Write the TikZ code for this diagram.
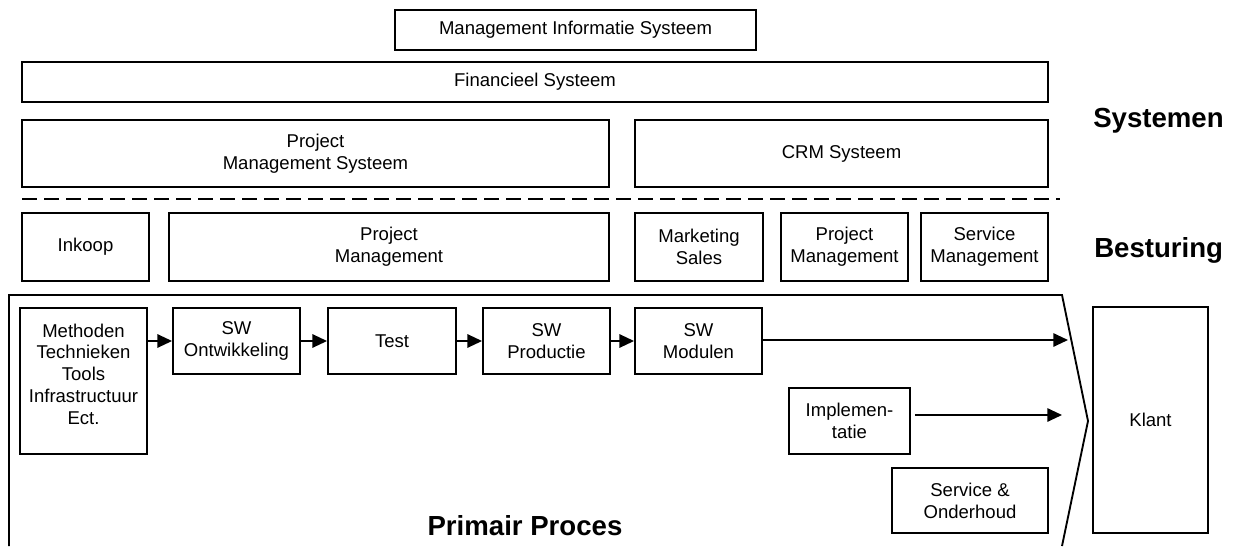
\documentclass[tikz,border=0pt]{standalone}
\usepackage{fontspec}
\setmainfont{Liberation Sans}
\usetikzlibrary{arrows.meta}
\tikzset{
  blok/.style={draw, line width=1.4pt, align=center, inner sep=0pt,
    font=\fontsize{13.9}{16.4}\selectfont},
  maat/.style 2 args={minimum width=#1*0.75pt, minimum height=#2*0.75pt},
  pijl/.style={line width=1.4pt, -{Triangle[length=11pt, width=10pt]}},
  laag/.style={font=\bfseries\fontsize{20.7}{24}\selectfont, inner sep=0pt}
}

\begin{document}
\begin{tikzpicture}[x=0.75pt, y=-0.75pt]
  \useasboundingbox (0,0) rectangle (1234,546);
  % Systemen
  \node[blok, maat={361}{40}] (mis) at (575.5,30) {Management Informatie Systeem};
  \node[blok, maat={1026}{40}] (fin) at (535,82) {Financieel Systeem};
  \node[blok, maat={587}{67}] (pms) at (315.5,153.5) {Project\\Management Systeem};
  \node[blok, maat={413}{67}] (crm) at (841.5,153.5) {CRM Systeem};
  \draw[line width=1.5pt, dash pattern=on 11.25pt off 5.25pt] (22,199) -- (1060,199);
  % Besturing
  \node[blok, maat={127}{68}] (inkoop) at (85.5,247) {Inkoop};
  \node[blok, maat={440}{68}] (pm) at (389,247) {Project\\Management};
  \node[blok, maat={128}{68}] (marketing) at (699,247) {Marketing\\Sales};
  \node[blok, maat={127}{68}] (pmklant) at (844.5,247) {Project\\Management};
  \node[blok, maat={127}{68}] (servmgt) at (984.5,247) {Service\\Management};
  % Primair proces
  \draw[line width=1.4pt] (9,546) -- (9,295) -- (1062,295) -- (1088,421) -- (1062,546);
  \node[blok, maat={127}{146}] (methoden) at (83.5,381)
    {Methoden\\Technieken\\Tools\\Infrastructuur\\Ect.\\[-6pt]\mbox{}};
  \node[blok, maat={127}{66}] (ontw) at (236.5,341) {SW\\Ontwikkeling};
  \node[blok, maat={128}{66}] (test) at (392,341) {Test};
  \node[blok, maat={127}{66}] (prod) at (546.5,341) {SW\\Productie};
  \node[blok, maat={127}{66}] (modulen) at (698.5,341) {SW\\Modulen};
  \node[blok, maat={121}{66}] (impl) at (849.5,421) {Implemen-\\tatie};
  \node[blok, maat={156}{65}] (service) at (970,500.5) {Service \&\\Onderhoud};
  \node[blok, maat={115}{226}] (klant) at (1150.5,420) {Klant};
  \coordinate (modEind) at (1068,340);
  \coordinate (implEind) at (1062,415);
  \draw[pijl] (methoden.east |- ontw.west) -- (ontw.west);
  \draw[pijl] (ontw) -- (test);
  \draw[pijl] (test) -- (prod);
  \draw[pijl] (prod) -- (modulen);
  \draw[pijl] (modulen.east |- modEind) -- (modEind);
  \draw[pijl, shorten <=3pt] (impl.east |- implEind) -- (implEind);
  % lagen
  \node[laag, anchor=base west] (systemen) at (1093,127) {Systemen};
  \node[laag, anchor=base west] (besturing) at (1094,257) {Besturing};
  \node[laag, anchor=base] (primair) at (525,535) {Primair Proces};
\end{tikzpicture}
\end{document}
